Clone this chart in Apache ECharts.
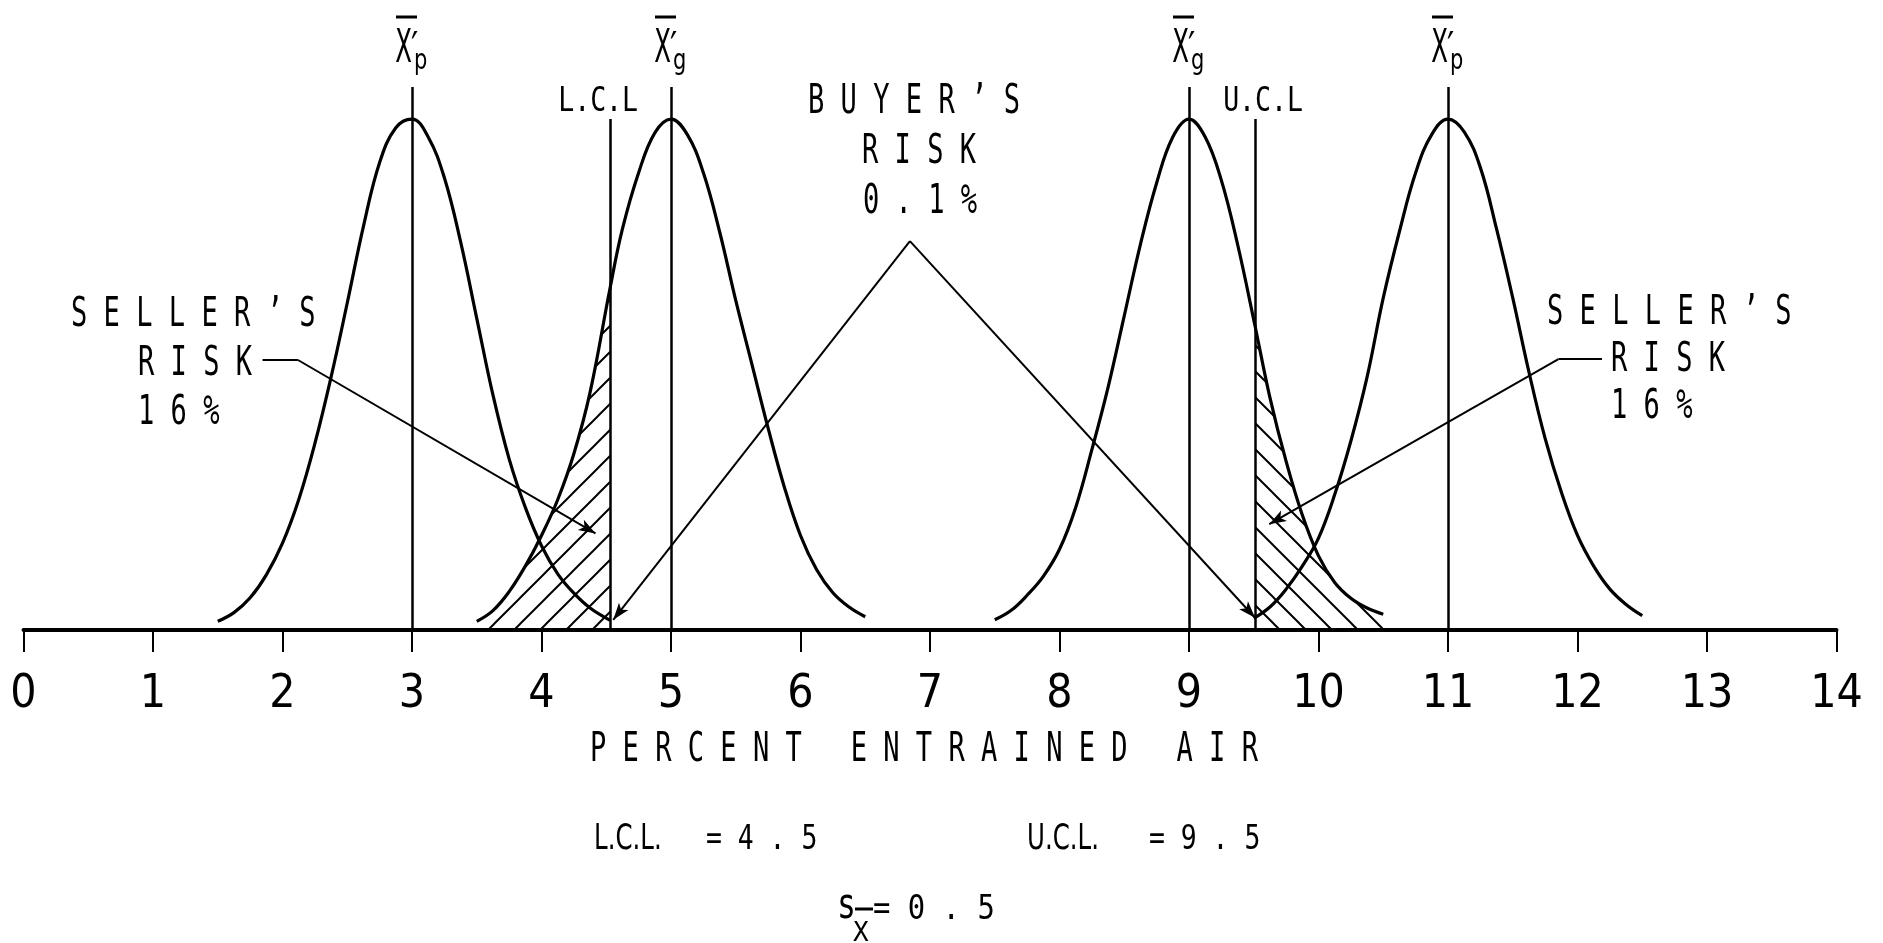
<!DOCTYPE html>
<html>
<head>
<meta charset="utf-8">
<script src="https://cdn.jsdelivr.net/npm/echarts@6/dist/echarts.min.js"></script>
<style>
html,body{margin:0;padding:0;background:#fff;}
#chart{width:1883px;height:943px;}
</style>
</head>
<body>
<div id="chart"></div>
<script>
// ---------------- data ----------------
const xTickLabels = ['0','1','2','3','4','5','6','7','8','9','10','11','12','13','14'];

// relative frequency (peak = 100) of the four sampling distributions
const curveXp3 = [[1.5,1.7],[1.625,3.4],[1.75,6.3],[1.875,10.8],[2.0,17],[2.125,25.5],[2.25,36.5],[2.375,49.5],[2.5,64],[2.625,79],[2.75,91.5],[2.875,98.3],[3.0,100],[3.125,96.5],[3.25,88.5],[3.375,76],[3.5,61],[3.625,46],[3.75,33.5],[3.875,24],[4.0,16.5],[4.125,11],[4.25,7.2],[4.375,4.3],[4.53,1.9]];
const curveXg5 = [[3.5,1.7],[3.625,3.8],[3.75,7.5],[3.875,12.5],[4.0,18.5],[4.125,25.5],[4.25,34.5],[4.375,46.5],[4.53,67],[4.625,78.5],[4.75,89.5],[4.875,97.3],[5.0,100],[5.125,97],[5.25,89.5],[5.375,78],[5.5,64.5],[5.625,52],[5.75,39.5],[5.875,28],[6.0,18.5],[6.125,11.8],[6.25,7.3],[6.375,4.5],[6.5,2.6]];
const curveXg9 = [[7.5,2],[7.625,3.8],[7.75,6.8],[7.875,10.5],[8.0,15.8],[8.125,24],[8.25,35.3],[8.375,47.5],[8.5,61.5],[8.625,75.5],[8.75,87.5],[8.875,96.5],[9.0,100],[9.125,96.5],[9.25,88],[9.375,75.5],[9.51,59.5],[9.625,45.5],[9.75,33],[9.875,22.5],[10.0,14.5],[10.125,9.3],[10.25,6.2],[10.375,4.3],[10.5,3.1]];
const curveXp11 = [[9.5,2.3],[9.625,4.5],[9.75,8],[9.875,12.5],[10.0,18],[10.125,26.5],[10.25,37],[10.375,49.5],[10.5,65],[10.625,78],[10.75,89.5],[10.875,97],[11.0,100],[11.125,97.5],[11.25,90.5],[11.375,78.5],[11.5,65],[11.625,50.5],[11.75,37.5],[11.875,27],[12.0,18.5],[12.125,12.5],[12.25,8],[12.375,5],[12.5,2.8]];

// vertical lines
const meanPositions = [3, 5, 9, 11];
const meanSubscripts = ['p', 'g', 'g', 'p'];
const meanLineTop = 106.3;
const controlLimits = [4.53, 9.51];
const controlLabels = ['L.C.L', 'U.C.L'];
const controlLineTop = 100;

// leader lines (data coordinates), last point carries the arrow head
const sellerLeftLeader = [[1.846, 52.8], [2.123, 52.8], [4.417, 18.9]];
const buyerLeaderLeft = [[6.845, 76.1], [4.554, 2.0]];
const buyerLeaderRight = [[6.845, 76.1], [9.51, 2.4]];
const sellerRightLeader = [[12.189, 53.0], [11.853, 53.0], [9.62, 20.7]];

// texts
const axisTitle = 'PERCENT ENTRAINED AIR';
const sellerText = ['SELLER\u2019S', 'RISK', '16%'];
const buyerText = ['BUYER\u2019S', 'RISK', '0.1%'];
const lclText = ['L.C.L.', '= 4 . 5'];
const uclText = ['U.C.L.', '= 9 . 5'];
const sdText = ['s', 'X', '= 0 . 5'];

// ---------------- helpers ----------------
const MONO = "'DejaVu Sans Mono', 'Liberation Mono', monospace";
const SANS = "'DejaVu Sans', sans-serif";
function spaced(s) { return s.split('').join(' '); }
function hatchPattern(dir) {
  const s = 26;
  const c = document.createElement('canvas');
  c.width = s; c.height = s;
  const g = c.getContext('2d');
  g.strokeStyle = '#000';
  g.lineWidth = 2;
  g.beginPath();
  if (dir > 0) {
    g.moveTo(0, s); g.lineTo(s, 0);
    g.moveTo(-3, 3); g.lineTo(3, -3);
    g.moveTo(s - 3, s + 3); g.lineTo(s + 3, s - 3);
  } else {
    g.moveTo(0, 0); g.lineTo(s, s);
    g.moveTo(-3, s - 3); g.lineTo(3, s + 3);
    g.moveTo(s - 3, -3); g.lineTo(s + 3, 3);
  }
  g.stroke();
  return c;
}
function txt(str, x, y, size, sx, align, family) {
  const a = align || 'left';
  return {
    type: 'text', x: x, y: y, scaleX: sx, silent: true, z: 10,
    style: {
      text: str, font: size + 'px ' + (family || MONO), fill: '#000',
      align: a, textAlign: a, verticalAlign: 'middle', textVerticalAlign: 'middle'
    }
  };
}
function seg(p, q, arrow) {
  return [
    { coord: p, symbol: 'none' },
    { coord: q, symbol: arrow ? 'arrow' : 'none', symbolSize: [9, 17] }
  ];
}

// ---------------- chart ----------------
const chart = echarts.init(document.getElementById('chart'), null, { renderer: 'canvas' });

const curveStyle = { color: '#000', width: 3.2 };
function curveSeries(name, data) {
  return {
    name: name, type: 'line', data: data, smooth: 0.4, showSymbol: false,
    symbol: 'none', silent: true, z: 5,
    lineStyle: curveStyle, itemStyle: { color: '#000' }
  };
}
function hatchSeries(name, data, dir) {
  return {
    name: name, type: 'line', data: data, smooth: 0.4, showSymbol: false,
    symbol: 'none', silent: true, z: 2,
    lineStyle: { width: 0, color: 'rgba(0,0,0,0)' },
    areaStyle: { color: { image: hatchPattern(dir), repeat: 'repeat' }, opacity: 1 }
  };
}

const verticalLines = [];
meanPositions.forEach(function (x) { verticalLines.push(seg([x, 0], [x, meanLineTop], false)); });
controlLimits.forEach(function (x) { verticalLines.push(seg([x, 0], [x, controlLineTop], false)); });

const leaderLines = [
  seg(sellerLeftLeader[0], sellerLeftLeader[1], false),
  seg(sellerLeftLeader[1], sellerLeftLeader[2], true),
  seg(buyerLeaderLeft[0], buyerLeaderLeft[1], true),
  seg(buyerLeaderRight[0], buyerLeaderRight[1], true),
  seg(sellerRightLeader[0], sellerRightLeader[1], false),
  seg(sellerRightLeader[1], sellerRightLeader[2], true)
];

const hatchLeft = curveXg5.filter(function (p) { return p[0] <= controlLimits[0]; });
const hatchRight = curveXg9.filter(function (p) { return p[0] >= controlLimits[1]; });

chart.setOption({
  animation: false,
  backgroundColor: '#fff',
  grid: { left: 23.5, right: 46.5, top: 68, bottom: 313, containLabel: false },
  xAxis: {
    type: 'value', min: 0, max: 14, interval: 1,
    axisLine: { show: true, onZero: false, lineStyle: { color: '#000', width: 4 } },
    axisTick: { show: true, length: 22, lineStyle: { color: '#000', width: 2 } },
    axisLabel: {
      color: '#000', fontSize: 46, margin: 42,
      fontFamily: "'Liberation Sans Narrow', 'DejaVu Sans Condensed', 'DejaVu Sans', sans-serif",
      formatter: function (v) { return xTickLabels[Math.round(v)]; }
    },
    splitLine: { show: false }
  },
  yAxis: { type: 'value', min: 0, max: 110, show: false, splitLine: { show: false } },
  series: [
    hatchSeries('seller risk (low)', hatchLeft, 1),
    hatchSeries('seller risk (high)', hatchRight, -1),
    curveSeries('X\u2032p = 3', curveXp3),
    curveSeries('X\u2032g = 5', curveXg5),
    curveSeries('X\u2032g = 9', curveXg9),
    curveSeries('X\u2032p = 11', curveXp11),
    {
      name: 'lines', type: 'line', data: [], silent: true, z: 6,
      markLine: {
        silent: true, animation: false, symbol: ['none', 'none'],
        label: { show: false }, emphasis: { disabled: true },
        lineStyle: { color: '#000', width: 2.5, type: 'solid' },
        data: verticalLines
      }
    },
    {
      name: 'leaders', type: 'line', data: [], silent: true, z: 7,
      markLine: {
        silent: true, animation: false, symbol: ['none', 'none'],
        label: { show: false }, emphasis: { disabled: true },
        lineStyle: { color: '#000', width: 2, type: 'solid' },
        itemStyle: { color: '#000' },
        data: leaderLines
      }
    }
  ]
});

// ---------------- annotations ----------------
const graphics = [];
meanPositions.forEach(function (x, i) {
  const px = chart.convertToPixel({ xAxisIndex: 0 }, x);
  graphics.push({
    type: 'group', x: px, y: 0, silent: true,
    children: [
      { type: 'line', shape: { x1: -16, y1: 17, x2: 5, y2: 17 }, style: { stroke: '#000', lineWidth: 3 } },
      txt('X', 0, 50.5, 46, 0.53, 'right', SANS),
      txt('\u2032', -1, 50.5, 40, 0.8, 'left', SANS),
      txt(meanSubscripts[i], 2, 62, 28, 0.75, 'left', SANS)
    ]
  });
});
controlLimits.forEach(function (x, i) {
  const px = chart.convertToPixel({ xAxisIndex: 0 }, x);
  graphics.push(txt(controlLabels[i], px + (i === 0 ? -12 : 8), 101.9, 34, 0.78, 'center'));
});

// seller's risk (left)
graphics.push(txt(spaced(sellerText[0]), 71, 315.8, 40, 0.677));
graphics.push(txt(spaced(sellerText[1]), 138, 364.8, 40, 0.677));
graphics.push(txt(spaced(sellerText[2]), 138, 413.8, 40, 0.677));
// seller's risk (right)
graphics.push(txt(spaced(sellerText[0]), 1547, 313.8, 40, 0.677));
graphics.push(txt(spaced(sellerText[1]), 1611, 360.8, 40, 0.677));
graphics.push(txt(spaced(sellerText[2]), 1611, 407.8, 40, 0.677));
// buyer's risk
graphics.push(txt(spaced(buyerText[0]), 808, 102.8, 40, 0.677));
graphics.push(txt(spaced(buyerText[1]), 862, 152.8, 40, 0.677));
graphics.push(txt(spaced(buyerText[2]), 863, 202.3, 40, 0.677));
// axis title
graphics.push(txt(spaced(axisTitle), 590, 749.9, 41, 0.66));
// limits
graphics.push(txt(lclText[0], 594, 840, 36, 0.68, 'left', SANS));
graphics.push(txt(lclText[1], 706, 840, 34, 0.777));
graphics.push(txt(uclText[0], 1027, 840, 36, 0.68, 'left', SANS));
graphics.push(txt(uclText[1], 1149, 840, 34, 0.777));
// standard deviation of the mean
graphics.push(txt(sdText[0], 837, 907.5, 42, 0.75));
graphics.push(txt(sdText[1], 853, 934.3, 26, 1.0));
graphics.push({ type: 'line', silent: true, shape: { x1: 855, y1: 909, x2: 873, y2: 909 }, style: { stroke: '#000', lineWidth: 3 } });
graphics.push(txt(sdText[2], 873, 909.9, 34, 0.85));

chart.setOption({ graphic: graphics });
</script>
</body>
</html>
